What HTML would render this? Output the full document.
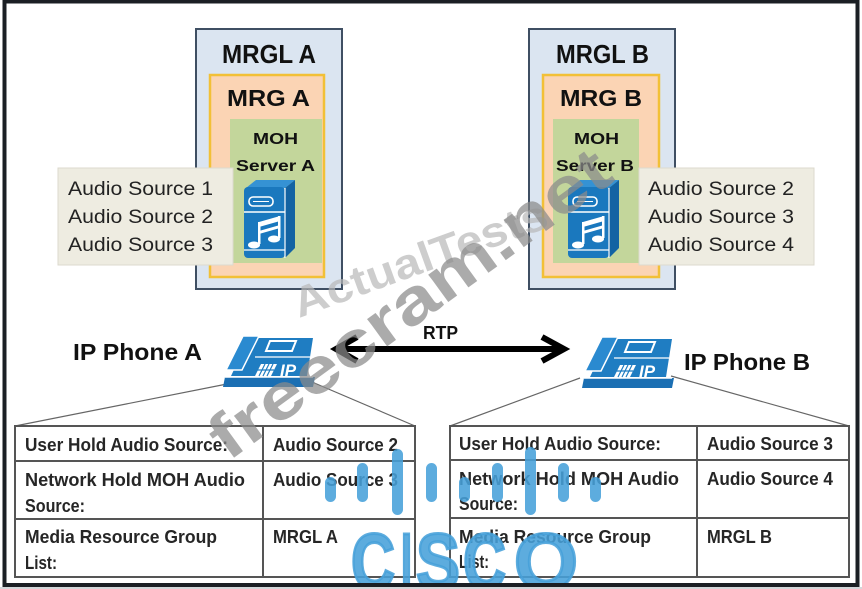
<!DOCTYPE html>
<html><head><meta charset="utf-8">
<style>
html,body{margin:0;padding:0;background:#fff;}
svg{display:block;}
text{font-family:"Liberation Sans",Arial,sans-serif;}
</style></head>
<body>
<svg width="862" height="589" viewBox="0 0 862 589" xmlns="http://www.w3.org/2000/svg">
<defs>
  <g id="srv">
    <polygon points="4,8 14,0 53,0 43,8" fill="#3592d4"/>
    <polygon points="43,8 53,0 53,68 43,78" fill="#1363a3"/>
    <rect x="2" y="7" width="41" height="71" rx="4" fill="#1a78be"/>
    <rect x="7" y="17" width="24" height="9" rx="4" fill="none" stroke="#fff" stroke-width="1.6"/>
    <line x1="11" y1="21.5" x2="27" y2="21.5" stroke="#fff" stroke-width="1"/>
    <line x1="2" y1="32" x2="43" y2="32" stroke="#fff" stroke-width="1.5"/>
    <line x1="43" y1="8" x2="43" y2="78" stroke="#fff" stroke-width="1.2"/>
    <line x1="2" y1="70" x2="43" y2="70" stroke="#fff" stroke-width="1.2"/>
    <polygon points="17,42 38,36 38,41 17,47" fill="#fff"/>
    <polygon points="17,51 38,45 38,48 17,54" fill="#fff"/>
    <rect x="16" y="42" width="2.5" height="22" fill="#fff"/>
    <rect x="36" y="36" width="2.5" height="22" fill="#fff"/>
    <ellipse cx="12" cy="65" rx="6" ry="3.5" fill="#fff"/>
    <ellipse cx="32" cy="59" rx="6" ry="3.5" fill="#fff"/>
  </g>
  <g id="phone">
    <polygon points="4,44 94,44 92,54 2,54" fill="#1b6fb3"/>
    <polygon points="10,43 28,5 92,5 86,43" fill="#1f7dc2"/>
    <line x1="4" y1="44" x2="92" y2="44" stroke="#fff" stroke-width="1.5"/>
    <polygon points="5,37 22,3 38,3 21,37" fill="#2a8ad0" stroke="#fff" stroke-width="1.5"/>
    <polygon points="49,8 75,8 71,18 45,18" fill="none" stroke="#fff" stroke-width="2"/>
    <line x1="34" y1="24" x2="89" y2="24" stroke="#fff" stroke-width="1.3"/>
    <polygon points="34,43 40,31 56,31 50,43" fill="#fff"/>
    <line x1="38" y1="43" x2="44" y2="31" stroke="#1f7dc2" stroke-width="1.2"/>
    <line x1="42" y1="43" x2="48" y2="31" stroke="#1f7dc2" stroke-width="1.2"/>
    <line x1="46" y1="43" x2="52" y2="31" stroke="#1f7dc2" stroke-width="1.2"/>
    <line x1="36" y1="37" x2="53" y2="37" stroke="#1f7dc2" stroke-width="1.2"/>
    <text x="59" y="43" font-size="17" font-weight="bold" font-style="italic" fill="#fff">IP</text>
  </g>
</defs>

<!-- MRGL A -->
<rect x="196" y="29" width="146" height="260" fill="#dbe5f1" stroke="#3f4f63" stroke-width="2"/>
<rect x="210" y="75" width="114" height="202" fill="#fbd4b4" stroke="#f2c037" stroke-width="2.5"/>
<rect x="230" y="119" width="92" height="144" fill="#c3d69b"/>
<rect x="58" y="168" width="175" height="97" fill="#eeece1" stroke="#dcdace" stroke-width="1"/>
<text x="222" y="63" font-size="26" font-weight="bold" fill="#111" textLength="94" lengthAdjust="spacingAndGlyphs">MRGL A</text>
<text x="227" y="106" font-size="23" font-weight="bold" fill="#111" textLength="83" lengthAdjust="spacingAndGlyphs">MRG A</text>
<text x="253" y="144" font-size="16" font-weight="bold" fill="#111" textLength="45" lengthAdjust="spacingAndGlyphs">MOH</text>
<text x="236" y="171" font-size="16" font-weight="bold" fill="#111" textLength="79" lengthAdjust="spacingAndGlyphs">Server  A</text>
<text x="68" y="195" font-size="19" fill="#222" textLength="145" lengthAdjust="spacingAndGlyphs">Audio Source 1</text>
<text x="68" y="223" font-size="19" fill="#222" textLength="145" lengthAdjust="spacingAndGlyphs">Audio Source 2</text>
<text x="68" y="251" font-size="19" fill="#222" textLength="145" lengthAdjust="spacingAndGlyphs">Audio Source 3</text>
<use href="#srv" x="242" y="180"/>

<!-- MRGL B -->
<rect x="529" y="29" width="146" height="260" fill="#dbe5f1" stroke="#3f4f63" stroke-width="2"/>
<rect x="543" y="75" width="116" height="202" fill="#fbd4b4" stroke="#f2c037" stroke-width="2.5"/>
<rect x="553" y="119" width="86" height="144" fill="#c3d69b"/>
<rect x="639" y="168" width="175" height="97" fill="#eeece1" stroke="#dcdace" stroke-width="1"/>
<text x="556" y="63" font-size="26" font-weight="bold" fill="#111" textLength="93" lengthAdjust="spacingAndGlyphs">MRGL B</text>
<text x="560" y="106" font-size="23" font-weight="bold" fill="#111" textLength="82" lengthAdjust="spacingAndGlyphs">MRG B</text>
<text x="574" y="144" font-size="16" font-weight="bold" fill="#111" textLength="45" lengthAdjust="spacingAndGlyphs">MOH</text>
<text x="556" y="171" font-size="16" font-weight="bold" fill="#111" textLength="78" lengthAdjust="spacingAndGlyphs">Server  B</text>
<text x="648" y="195" font-size="19" fill="#222" textLength="146" lengthAdjust="spacingAndGlyphs">Audio Source 2</text>
<text x="648" y="223" font-size="19" fill="#222" textLength="146" lengthAdjust="spacingAndGlyphs">Audio Source 3</text>
<text x="648" y="251" font-size="19" fill="#222" textLength="146" lengthAdjust="spacingAndGlyphs">Audio Source 4</text>
<use href="#srv" x="566" y="180"/>

<!-- phones -->
<line x1="227" y1="384" x2="15" y2="426" stroke="#666" stroke-width="1.2"/>
<line x1="312" y1="382" x2="415" y2="426" stroke="#666" stroke-width="1.2"/>
<line x1="580" y1="378" x2="450" y2="426" stroke="#666" stroke-width="1.2"/>
<line x1="671" y1="376" x2="849" y2="426" stroke="#666" stroke-width="1.2"/>
<use href="#phone" x="221" y="333"/>
<use href="#phone" x="580" y="334"/>
<text x="73" y="360" font-size="23" font-weight="bold" fill="#111" textLength="129" lengthAdjust="spacingAndGlyphs">IP Phone A</text>
<text x="684" y="370" font-size="23" font-weight="bold" fill="#111" textLength="126" lengthAdjust="spacingAndGlyphs">IP Phone B</text>

<!-- RTP arrow -->
<line x1="340" y1="349" x2="562" y2="349" stroke="#000" stroke-width="6"/>
<polyline points="357,337 336,349 357,361" fill="none" stroke="#000" stroke-width="6"/>
<polyline points="542,337 564,349 542,361" fill="none" stroke="#000" stroke-width="6"/>
<text x="423" y="339" font-size="18" font-weight="bold" fill="#111" textLength="35" lengthAdjust="spacingAndGlyphs">RTP</text>

<!-- Table A -->
<rect x="15" y="426" width="400" height="151" fill="#fff" stroke="#555" stroke-width="2"/>
<line x1="263" y1="426" x2="263" y2="577" stroke="#555" stroke-width="2"/>
<line x1="15" y1="461" x2="415" y2="461" stroke="#555" stroke-width="2"/>
<line x1="15" y1="519" x2="415" y2="519" stroke="#555" stroke-width="2"/>
<g font-size="18" font-weight="bold" fill="#262626">
<text x="25" y="451" textLength="203" lengthAdjust="spacingAndGlyphs">User Hold Audio Source:</text>
<text x="25" y="486" textLength="220" lengthAdjust="spacingAndGlyphs">Network Hold MOH Audio</text>
<text x="25" y="512" textLength="60" lengthAdjust="spacingAndGlyphs">Source:</text>
<text x="25" y="543" textLength="192" lengthAdjust="spacingAndGlyphs">Media Resource Group</text>
<text x="25" y="569" textLength="32" lengthAdjust="spacingAndGlyphs">List:</text>
<text x="273" y="451" textLength="125" lengthAdjust="spacingAndGlyphs">Audio Source 2</text>
<text x="273" y="486" textLength="125" lengthAdjust="spacingAndGlyphs">Audio Source 3</text>
<text x="273" y="543" textLength="65" lengthAdjust="spacingAndGlyphs">MRGL A</text>
</g>

<!-- Table B -->
<rect x="450" y="426" width="399" height="151" fill="#fff" stroke="#555" stroke-width="2"/>
<line x1="697" y1="426" x2="697" y2="577" stroke="#555" stroke-width="2"/>
<line x1="450" y1="460" x2="849" y2="460" stroke="#555" stroke-width="2"/>
<line x1="450" y1="518" x2="849" y2="518" stroke="#555" stroke-width="2"/>
<g font-size="18" font-weight="bold" fill="#262626">
<text x="459" y="450" textLength="202" lengthAdjust="spacingAndGlyphs">User Hold Audio Source:</text>
<text x="459" y="485" textLength="220" lengthAdjust="spacingAndGlyphs">Network Hold MOH Audio</text>
<text x="459" y="510" textLength="59" lengthAdjust="spacingAndGlyphs">Source:</text>
<text x="459" y="543" textLength="192" lengthAdjust="spacingAndGlyphs">Media Resource Group</text>
<text x="459" y="568" textLength="30" lengthAdjust="spacingAndGlyphs">List:</text>
<text x="707" y="450" textLength="126" lengthAdjust="spacingAndGlyphs">Audio Source 3</text>
<text x="707" y="485" textLength="126" lengthAdjust="spacingAndGlyphs">Audio Source 4</text>
<text x="707" y="543" textLength="65" lengthAdjust="spacingAndGlyphs">MRGL B</text>
</g>

<!-- watermarks -->
<text x="0" y="0" transform="translate(299,318) rotate(-20)" font-size="42" font-weight="bold" fill="#b8b8b8" fill-opacity="0.7" textLength="268" lengthAdjust="spacingAndGlyphs">ActualTests</text>
<text x="0" y="0" transform="translate(228,462) rotate(-36)" font-size="64" font-weight="bold" fill="#8a8a8a" fill-opacity="0.72" textLength="480" lengthAdjust="spacingAndGlyphs">freecram.net</text>

<!-- cisco watermark -->
<g fill="#47a0da" fill-opacity="0.88">
<rect x="325" y="477" width="11" height="25" rx="5.5"/>
<rect x="357" y="463" width="11" height="39" rx="5.5"/>
<rect x="392" y="449" width="11" height="66" rx="5.5"/>
<rect x="426" y="463" width="11" height="39" rx="5.5"/>
<rect x="459" y="477" width="11" height="25" rx="5.5"/>
<rect x="492" y="463" width="11" height="39" rx="5.5"/>
<rect x="525" y="447" width="11" height="68" rx="5.5"/>
<rect x="558" y="463" width="11" height="39" rx="5.5"/>
<rect x="590" y="477" width="11" height="25" rx="5.5"/>
<g font-size="80" font-weight="bold" stroke="#47a0da" stroke-width="3" stroke-opacity="0.88">
<text x="351" y="589" textLength="44" lengthAdjust="spacingAndGlyphs">C</text>
<text x="401" y="589" textLength="11" lengthAdjust="spacingAndGlyphs">I</text>
<text x="416" y="589" textLength="44" lengthAdjust="spacingAndGlyphs">S</text>
<text x="463" y="589" textLength="43" lengthAdjust="spacingAndGlyphs">C</text>
<text x="514" y="589" textLength="64" lengthAdjust="spacingAndGlyphs">O</text>
</g>
</g>

<!-- outer frame -->
<rect x="4.5" y="1.5" width="853" height="583.5" fill="none" stroke="#1b1f24" stroke-width="4"/>
<rect x="0" y="587" width="862" height="2" fill="#d4d7da"/>
</svg>
</body></html>
